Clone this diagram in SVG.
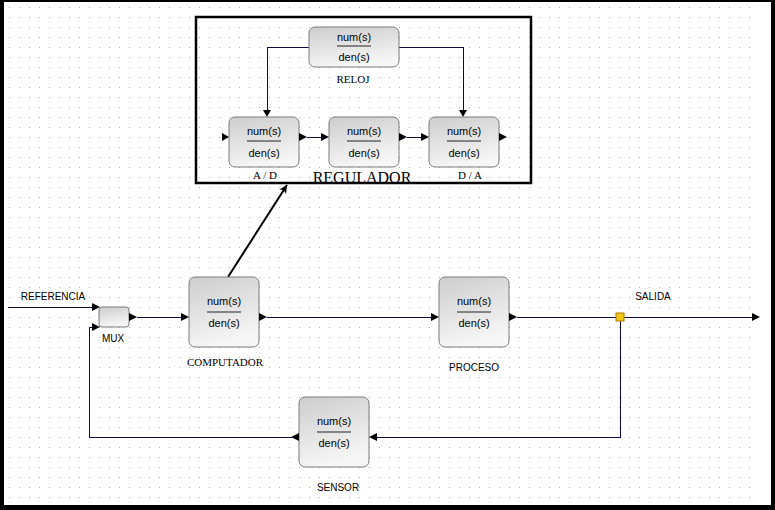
<svg xmlns="http://www.w3.org/2000/svg" width="775" height="510" viewBox="0 0 775 510">
<defs>
  <pattern id="grid" x="9" y="7" width="10" height="10" patternUnits="userSpaceOnUse">
    <rect x="0" y="0" width="1" height="1" fill="#b0b0b0"/>
  </pattern>
  <linearGradient id="blk" x1="0" y1="0" x2="0.3" y2="1">
    <stop offset="0" stop-color="#cdcdcd"/>
    <stop offset="1" stop-color="#f6f6f6"/>
  </linearGradient>
  <marker id="ah" markerWidth="10" markerHeight="10" refX="9" refY="5" orient="auto" markerUnits="userSpaceOnUse">
    <path d="M1,1 L9,5 L1,9 L3,5 Z" fill="#000"/>
  </marker>
</defs>
<style>
  .b{fill:url(#blk);stroke:#7a7a7a;stroke-width:1}
  .n{font-family:"Liberation Sans",Arial,sans-serif;font-size:11px;fill:#000;text-anchor:middle}
  .fl{stroke:#222;stroke-width:1}
  .s{font-family:"Liberation Sans",Arial,sans-serif;font-size:10px;fill:#000;text-anchor:middle}
  .t{font-family:"Liberation Serif","Times New Roman",serif;font-size:11px;fill:#000;text-anchor:middle}
  .w{fill:none;stroke:#0c0c40;stroke-width:1;shape-rendering:crispEdges}
  .p{fill:#000}
</style>
<rect x="0" y="0" width="775" height="510" fill="#000"/>
<rect x="4" y="2" width="767" height="503" fill="#fff"/>
<rect x="4" y="2" width="752" height="500" fill="url(#grid)"/>

<g id="regulador-frame">
  <rect x="196" y="17" width="335" height="166" fill="none" stroke="#000" stroke-width="2.5"/>
  <text x="362" y="183" font-family="Liberation Serif,'Times New Roman',serif" font-size="16" text-anchor="middle">REGULADOR</text>
</g>

<g id="connectors">
  <polyline class="w" points="309,47 267,47 267,110"/>
  <polyline class="w" points="399,47 463,47 463,110"/>
  <line class="w" x1="307" y1="137" x2="321" y2="137"/>
  <line class="w" x1="407" y1="137" x2="421" y2="137"/>
  <line class="w" x1="8" y1="307" x2="92" y2="307"/>
  <polyline class="w" points="292,437 89,437 89,327 92,327"/>
  <line class="w" x1="137" y1="317" x2="181" y2="317"/>
  <line class="w" x1="267" y1="317" x2="431" y2="317"/>
  <line class="w" x1="517" y1="317" x2="752" y2="317"/>
  <polyline class="w" points="620,317 620,437 377,437"/>
  <line x1="228" y1="277" x2="287" y2="185" stroke="#000" stroke-width="2" marker-end="url(#ah)"/>
  <path class="p" d="M752,313 L760,317 L752,321 Z"/>
  <rect x="616" y="313" width="8" height="8" fill="#f5c518" stroke="#b08000" stroke-width="1"/>
</g>

<g id="reloj">
  <rect class="b" x="309" y="27" width="90" height="40" rx="6"/>
  <text class="n" x="354" y="41">num(s)</text>
  <line class="fl" x1="337" y1="46" x2="371" y2="46"/>
  <text class="n" x="354" y="61">den(s)</text>
  <text class="t" x="353" y="83">RELOJ</text>
  <path class="p" d="M263,110 L271,110 L267,117 Z"/>
  <path class="p" d="M459,110 L467,110 L463,117 Z"/>
</g>

<g id="ad">
  <rect class="b" x="229" y="117" width="70" height="50" rx="6"/>
  <text class="n" x="264" y="135">num(s)</text>
  <line class="fl" x1="247" y1="141" x2="281" y2="141"/>
  <text class="n" x="264" y="157">den(s)</text>
  <path class="p" d="M222,133 L229,137 L222,141 Z"/>
  <path class="p" d="M299,133 L307,137 L299,141 Z"/>
  <text class="t" x="265" y="179">A / D</text>
</g>

<g id="regulador">
  <rect class="b" x="329" y="117" width="70" height="50" rx="6"/>
  <text class="n" x="364" y="135">num(s)</text>
  <line class="fl" x1="347" y1="141" x2="381" y2="141"/>
  <text class="n" x="364" y="157">den(s)</text>
  <path class="p" d="M321,133 L329,137 L321,141 Z"/>
  <path class="p" d="M399,133 L407,137 L399,141 Z"/>
</g>

<g id="da">
  <rect class="b" x="429" y="117" width="70" height="50" rx="6"/>
  <text class="n" x="464" y="135">num(s)</text>
  <line class="fl" x1="447" y1="141" x2="481" y2="141"/>
  <text class="n" x="464" y="157">den(s)</text>
  <path class="p" d="M421,133 L429,137 L421,141 Z"/>
  <path class="p" d="M499,133 L507,137 L499,141 Z"/>
  <text class="t" x="470" y="179">D / A</text>
</g>

<g id="referencia">
  <text class="s" x="53" y="300">REFERENCIA</text>
</g>

<g id="mux">
  <rect class="b" x="99" y="307" width="30" height="20" rx="3"/>
  <path class="p" d="M92,303 L100,307 L92,311 Z"/>
  <path class="p" d="M92,323 L100,327 L92,331 Z"/>
  <path class="p" d="M129,313 L137,317 L129,321 Z"/>
  <text class="s" x="113" y="342">MUX</text>
</g>

<g id="computador">
  <rect class="b" x="189" y="277" width="70" height="70" rx="6"/>
  <text class="n" x="224" y="305">num(s)</text>
  <line class="fl" x1="207" y1="312" x2="241" y2="312"/>
  <text class="n" x="224" y="327">den(s)</text>
  <path class="p" d="M181,313 L189,317 L181,321 Z"/>
  <path class="p" d="M259,313 L267,317 L259,321 Z"/>
  <text class="t" x="225" y="366">COMPUTADOR</text>
</g>

<g id="proceso">
  <rect class="b" x="439" y="277" width="70" height="70" rx="6"/>
  <text class="n" x="474" y="305">num(s)</text>
  <line class="fl" x1="457" y1="312" x2="491" y2="312"/>
  <text class="n" x="474" y="327">den(s)</text>
  <path class="p" d="M431,313 L439,317 L431,321 Z"/>
  <path class="p" d="M509,313 L517,317 L509,321 Z"/>
  <text class="s" x="474" y="371">PROCESO</text>
</g>

<g id="salida">
  <text class="s" x="653" y="300">SALIDA</text>
</g>

<g id="sensor">
  <rect class="b" x="299" y="397" width="70" height="70" rx="6"/>
  <text class="n" x="334" y="425">num(s)</text>
  <line class="fl" x1="317" y1="432" x2="351" y2="432"/>
  <text class="n" x="334" y="447">den(s)</text>
  <path class="p" d="M377,433 L369,437 L377,441 Z"/>
  <path class="p" d="M299,433 L291,437 L299,441 Z"/>
  <text class="s" x="338" y="491">SENSOR</text>
</g>
</svg>
